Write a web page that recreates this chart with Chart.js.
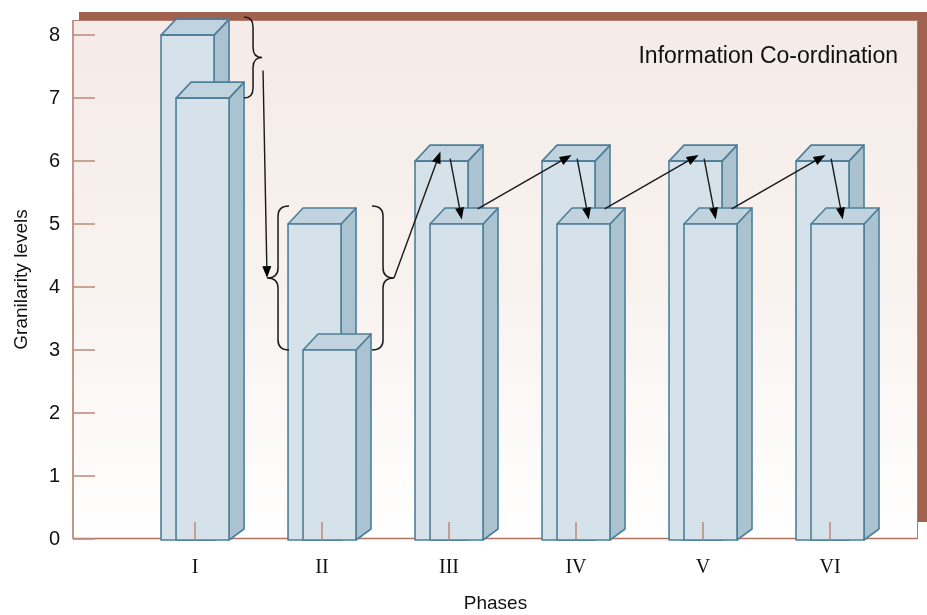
<!DOCTYPE html>
<html>
<head>
<meta charset="utf-8">
<title>Information Co-ordination</title>
<script src="https://cdn.jsdelivr.net/npm/chart.js@4.4.1/dist/chart.umd.min.js"></script>
<style>
  html, body { margin: 0; padding: 0; background: #ffffff; }
  #wrap { width: 927px; height: 615px; position: relative; }
</style>
</head>
<body>
<div id="wrap"><canvas id="chart"></canvas></div>
<script>
// Phases on the horizontal axis
const phases = ['I', 'II', 'III', 'IV', 'V', 'VI'];
// Granularity level of the rear (taller) column in each phase
const rearLevels = [8, 5, 6, 6, 6, 6];
// Granularity level of the front column in each phase
const frontLevels = [7, 3, 5, 5, 5, 5];
// Vertical axis tick values
const levelTicks = [0, 1, 2, 3, 4, 5, 6, 7, 8];
const panelTitle = 'Information Co-ordination';

const SANS = '"Liberation Sans", Arial, Helvetica, sans-serif';
const SERIF = '"Liberation Serif", "Times New Roman", Times, serif';

// depth of the extruded columns
const DX = 15, DY = 16, DY_FOOT = 11;
const COLORS = {
  face: '#d5e2ea',
  top: '#c0d3df',
  side: '#abc3d1',
  edge: '#4e7f99',
  shadow: '#a0624f',
  axisLeft: '#c3978a',
  axisBottom: '#b3705f',
  tick: '#c08f80',
  ink: '#111111'
};

function geom(chart, ds, i) {
  const b = chart.getDatasetMeta(ds).data[i].getProps(['x', 'y', 'base', 'width'], true);
  return { l: b.x - b.width / 2, r: b.x + b.width / 2, t: b.y, b: b.base };
}
// point on the top face: fx across the width, fy into the depth
function onTop(q, fx, fy) {
  return [q.l + fx * (q.r - q.l) + fy * DX, q.t - fy * DY];
}

function poly(ctx, pts, fill) {
  ctx.beginPath();
  ctx.moveTo(pts[0][0], pts[0][1]);
  for (let k = 1; k < pts.length; k++) ctx.lineTo(pts[k][0], pts[k][1]);
  ctx.closePath();
  ctx.fillStyle = fill;
  ctx.fill();
  ctx.stroke();
}

function drawBox(ctx, q) {
  ctx.save();
  ctx.lineWidth = 1.6;
  ctx.lineJoin = 'round';
  ctx.strokeStyle = COLORS.edge;
  const bot = q.b + 1;
  poly(ctx, [[q.r, q.t], [q.r + DX, q.t - DY], [q.r + DX, bot - DY_FOOT], [q.r, bot]], COLORS.side);
  poly(ctx, [[q.l, q.t], [q.l + DX, q.t - DY], [q.r + DX, q.t - DY], [q.r, q.t]], COLORS.top);
  poly(ctx, [[q.l, q.t], [q.r, q.t], [q.r, bot], [q.l, bot]], COLORS.face);
  ctx.restore();
}

// curly brace; w > 0 gives "}", w < 0 gives "{". Returns the tip point.
function brace(ctx, x, y0, y1, w) {
  const xm = x + w / 2, xt = x + w, ym = (y0 + y1) / 2;
  const r = Math.min(10, (y1 - y0) / 4);
  ctx.beginPath();
  ctx.moveTo(x, y0);
  ctx.quadraticCurveTo(xm, y0, xm, y0 + r);
  ctx.lineTo(xm, ym - r);
  ctx.quadraticCurveTo(xm, ym, xt, ym);
  ctx.quadraticCurveTo(xm, ym, xm, ym + r);
  ctx.lineTo(xm, y1 - r);
  ctx.quadraticCurveTo(xm, y1, x, y1);
  ctx.stroke();
  return [xt, ym];
}

function arrow(ctx, a, b) {
  const [x1, y1] = a, [x2, y2] = b;
  const ang = Math.atan2(y2 - y1, x2 - x1);
  const L = 12, W = 4.5;
  const bx = x2 - L * Math.cos(ang), by = y2 - L * Math.sin(ang);
  ctx.beginPath();
  ctx.moveTo(x1, y1);
  ctx.lineTo(bx, by);
  ctx.stroke();
  ctx.beginPath();
  ctx.moveTo(x2, y2);
  ctx.lineTo(bx + W * Math.sin(ang), by - W * Math.cos(ang));
  ctx.lineTo(bx - W * Math.sin(ang), by + W * Math.cos(ang));
  ctx.closePath();
  ctx.fill();
}

const panelPlugin = {
  id: 'panel',
  beforeDraw(chart) {
    const { ctx, chartArea: a, width, height } = chart;
    ctx.save();
    ctx.fillStyle = '#ffffff';
    ctx.fillRect(0, 0, width, height);
    // offset drop shadow behind the panel
    ctx.fillStyle = COLORS.shadow;
    ctx.fillRect(a.left + 6, a.top - 8, a.right - a.left + 7, a.bottom - a.top - 9);
    // panel with a soft pink-to-white wash
    const g = ctx.createLinearGradient(0, a.top, 0, a.bottom);
    g.addColorStop(0, '#f5ebe8');
    g.addColorStop(0.5, '#f8f2ef');
    g.addColorStop(1, '#ffffff');
    ctx.fillStyle = g;
    ctx.fillRect(a.left, a.top, a.right - a.left, a.bottom - a.top);
    ctx.strokeStyle = '#b57b6b';
    ctx.lineWidth = 1;
    ctx.strokeRect(a.left + 0.5, a.top + 0.5, a.right - a.left - 1, a.bottom - a.top - 1);
    // axes
    ctx.lineWidth = 2;
    ctx.strokeStyle = COLORS.axisLeft;
    ctx.beginPath();
    ctx.moveTo(a.left, a.top);
    ctx.lineTo(a.left, a.bottom);
    ctx.stroke();
    ctx.lineWidth = 1.6;
    ctx.strokeStyle = COLORS.axisBottom;
    ctx.beginPath();
    ctx.moveTo(a.left, a.bottom - 0.5);
    ctx.lineTo(a.right, a.bottom - 0.5);
    ctx.stroke();
    // inward tick marks on the level axis
    const ys = chart.scales.y;
    ctx.lineWidth = 1.6;
    ctx.strokeStyle = COLORS.tick;
    levelTicks.forEach(v => {
      const y = Math.round(ys.getPixelForValue(v));
      ctx.beginPath();
      ctx.moveTo(a.left, y);
      ctx.lineTo(a.left + 22, y);
      ctx.stroke();
    });
    ctx.restore();
  },
  afterDatasetsDraw(chart) {
    const { ctx, chartArea: a } = chart;
    const xs = chart.scales.x;
    ctx.save();
    // extruded columns, rear first so the front column overlaps it
    phases.forEach((p, i) => {
      drawBox(ctx, geom(chart, 0, i));
      drawBox(ctx, geom(chart, 1, i));
    });
    // short category ticks at the base
    ctx.lineWidth = 1.6;
    ctx.strokeStyle = COLORS.tick;
    phases.forEach((p, i) => {
      const x = Math.round(xs.getPixelForValue(i));
      ctx.beginPath();
      ctx.moveTo(x, a.bottom - 17);
      ctx.lineTo(x, a.bottom);
      ctx.stroke();
    });

    // braces and flow arrows
    const back = i => geom(chart, 0, i);
    const front = i => geom(chart, 1, i);
    ctx.strokeStyle = '#1a1a1a';
    ctx.fillStyle = '#000000';
    ctx.lineWidth = 1.5;
    const b0 = back(0), f0 = front(0), b1 = back(1), f1 = front(1);
    const tipI = brace(ctx, f0.r + DX, b0.t - DY - 2, f0.t, 18);
    const tipL = brace(ctx, b1.l + 1, b1.t - DY - 2, f1.t, -22);
    const tipR = brace(ctx, f1.r + DX + 1, b1.t - DY - 2, f1.t, 22);
    ctx.lineWidth = 1.4;
    arrow(ctx, [tipI[0] + 1, tipI[1] + 13], tipL);
    arrow(ctx, tipR, onTop(back(2), 0.31, 0.6));
    for (let i = 2; i < phases.length; i++) {
      arrow(ctx, onTop(back(i), 0.62, 0.15), onTop(front(i), 0.52, 0.28));
    }
    for (let i = 2; i < phases.length - 1; i++) {
      arrow(ctx, onTop(front(i), 0.63, 0.95), onTop(back(i + 1), 0.45, 0.38));
    }

    // panel caption
    ctx.fillStyle = COLORS.ink;
    ctx.font = '23px ' + SANS;
    ctx.textAlign = 'right';
    ctx.textBaseline = 'alphabetic';
    ctx.fillText(panelTitle, a.right - 20, 63);
    ctx.restore();
  }
};

const toPoints = arr => arr.map((v, i) => ({ x: i, y: v }));

new Chart(document.getElementById('chart'), {
  type: 'bar',
  data: {
    datasets: [
      { label: 'Rear', data: toPoints(rearLevels), backgroundColor: 'rgba(0,0,0,0)', borderWidth: 0 },
      { label: 'Front', data: toPoints(frontLevels), backgroundColor: 'rgba(0,0,0,0)', borderWidth: 0 }
    ]
  },
  options: {
    responsive: true,
    maintainAspectRatio: false,
    animation: false,
    events: [],
    layout: { padding: { top: 20, right: 9, left: 0, bottom: 0 } },
    datasets: { bar: { categoryPercentage: 30 / 127, barPercentage: 53 / 15 } },
    plugins: { legend: { display: false }, tooltip: { enabled: false } },
    scales: {
      x: {
        type: 'linear',
        offset: false,
        min: -0.961,
        max: 5.693,
        afterBuildTicks: s => { s.ticks = phases.map((p, i) => ({ value: i })); },
        afterFit: s => { s.height = 76; s.paddingLeft = 0; s.paddingRight = 0; },
        grid: { display: false, drawTicks: false },
        border: { display: false },
        ticks: {
          autoSkip: false,
          maxRotation: 0,
          padding: 17,
          color: COLORS.ink,
          font: { family: SERIF, size: 20 },
          callback: (v, i) => phases[i]
        },
        title: {
          display: true,
          text: 'Phases',
          color: COLORS.ink,
          font: { family: SANS, size: 19 },
          padding: { top: 0, bottom: 0 }
        }
      },
      y: {
        type: 'linear',
        min: 0,
        max: 8.24,
        afterBuildTicks: s => { s.ticks = levelTicks.map(v => ({ value: v })); },
        afterFit: s => { s.width = 73; s.paddingTop = 0; s.paddingBottom = 0; },
        grid: { display: false, drawTicks: false },
        border: { display: false },
        ticks: {
          padding: 13,
          color: COLORS.ink,
          font: { family: SANS, size: 20 },
          callback: v => String(v)
        },
        title: {
          display: true,
          text: 'Granilarity levels',
          color: COLORS.ink,
          font: { family: SANS, size: 19 },
          padding: { top: 10, bottom: 0 }
        }
      }
    }
  },
  plugins: [panelPlugin]
});
</script>
</body>
</html>
